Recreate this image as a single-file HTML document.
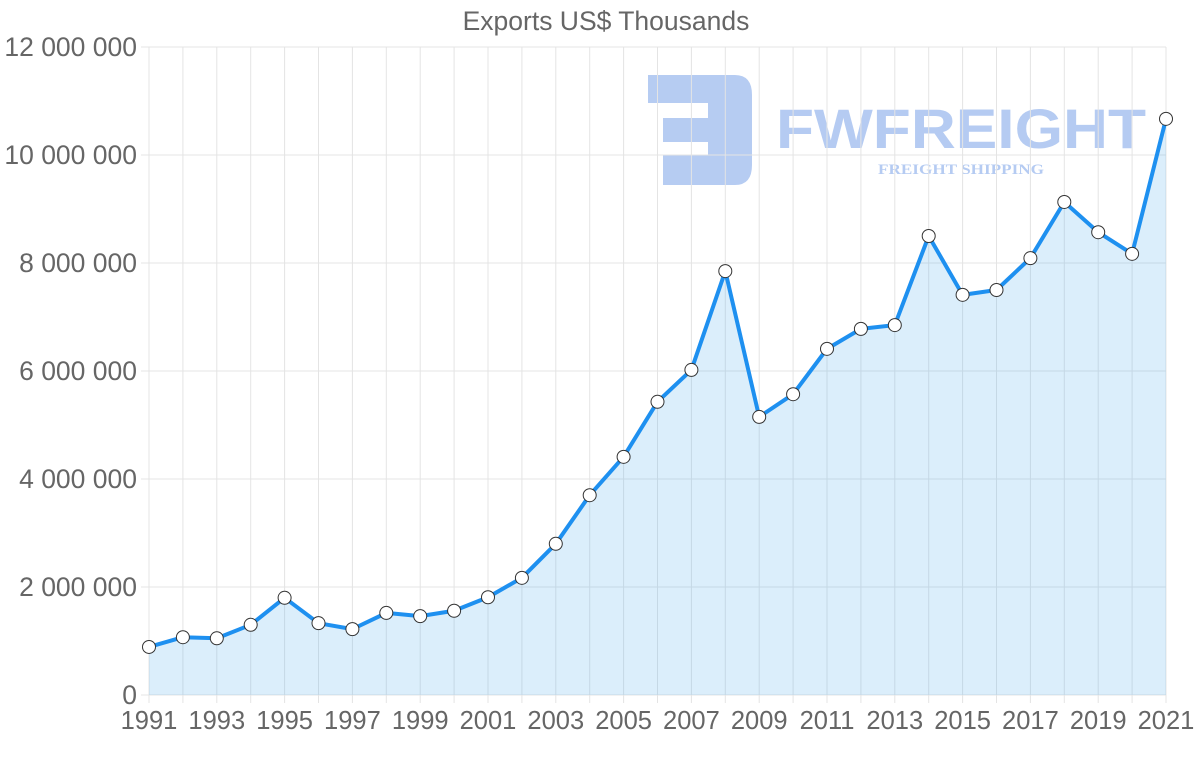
<!DOCTYPE html>
<html><head><meta charset="utf-8"><style>
html,body{margin:0;padding:0;background:#fff;}
svg{display:block;font-family:"Liberation Sans",sans-serif;}
</style></head><body>
<svg id="chart" width="1200" height="763">
<text x="606" y="30" text-anchor="middle" font-size="26.5" fill="#666">Exports US$ Thousands</text>
<g opacity="0.55">
<path d="M648 75 H735 Q752 75 752 95 V165 Q752 185 735 185 H663 V155 H708 V142 H663 V118 H708 V103 H648 Z" fill="#7aa2e8"/>
<text x="776" y="148" font-size="56" font-weight="bold" fill="#7aa2e8" textLength="370" lengthAdjust="spacingAndGlyphs">FWFREIGHT</text>
<text x="878" y="174" font-size="15" font-weight="bold" font-family="Liberation Serif,serif" fill="#7aa2e8" textLength="166" lengthAdjust="spacingAndGlyphs">FREIGHT SHIPPING</text>
</g>
<g id="grid"></g><g id="series"></g><g id="labels"></g>
</svg>
<script>
const years=[1991,1992,1993,1994,1995,1996,1997,1998,1999,2000,2001,2002,2003,2004,2005,2006,2007,2008,2009,2010,2011,2012,2013,2014,2015,2016,2017,2018,2019,2020,2021];
const exportsValues=[890000,1070000,1050000,1300000,1800000,1330000,1220000,1520000,1460000,1560000,1810000,2170000,2800000,3700000,4410000,5430000,6020000,7850000,5150000,5570000,6410000,6780000,6850000,8500000,7410000,7500000,8090000,9130000,8570000,8170000,10670000];
const yTicks=[0,2000000,4000000,6000000,8000000,10000000,12000000];
const yTickLabels=["0","2 000 000","4 000 000","6 000 000","8 000 000","10 000 000","12 000 000"];
const NS="http://www.w3.org/2000/svg";
const x0=149,x1=1166,yb=695,yt=47;
const xs=i=>x0+(x1-x0)*i/(years.length-1);
const ys=v=>yb-(yb-yt)*v/12000000;
function mk(t,a,p){const e=document.createElementNS(NS,t);for(const k in a)e.setAttribute(k,a[k]);p.appendChild(e);return e;}
const grid=document.getElementById('grid'),ser=document.getElementById('series'),lab=document.getElementById('labels');
yTicks.forEach((v,i)=>{
 const l=mk('line',{x1:x0-8,x2:x1,y1:ys(v),y2:ys(v),stroke:'#e4e4e4'},grid);
 
 
 const t=mk('text',{x:137,y:ys(v)+9,'text-anchor':'end','font-size':26.5,fill:'#666'},lab);
 t.textContent=yTickLabels[i];
 
 
});
years.forEach((y,i)=>{
 const l=mk('line',{x1:xs(i),x2:xs(i),y1:yt,y2:yb+8,stroke:'#e4e4e4'},grid);
 
 
 if(i%2===0){
  const t=mk('text',{x:xs(i),y:729,'text-anchor':'middle','font-size':25.5,fill:'#666'},lab);
  t.textContent=y;
  
  
 }
});
let d='';exportsValues.forEach((v,i)=>{d+=(i?'L':'M')+xs(i)+' '+ys(v);});
const area=mk('path',{d:d+'L'+x1+' '+yb+'L'+x0+' '+yb+'Z',fill:'rgba(54,162,235,0.18)'},ser);


const line=mk('path',{d:d,fill:'none',stroke:'#1e90f0','stroke-width':4,'stroke-linejoin':'round'},ser);


exportsValues.forEach((v,i)=>{
 const c=mk('circle',{cx:xs(i),cy:ys(v),r:6.5,fill:'#fff',stroke:'#333','stroke-width':1},ser);
 
 
});
</script>
</body></html>
